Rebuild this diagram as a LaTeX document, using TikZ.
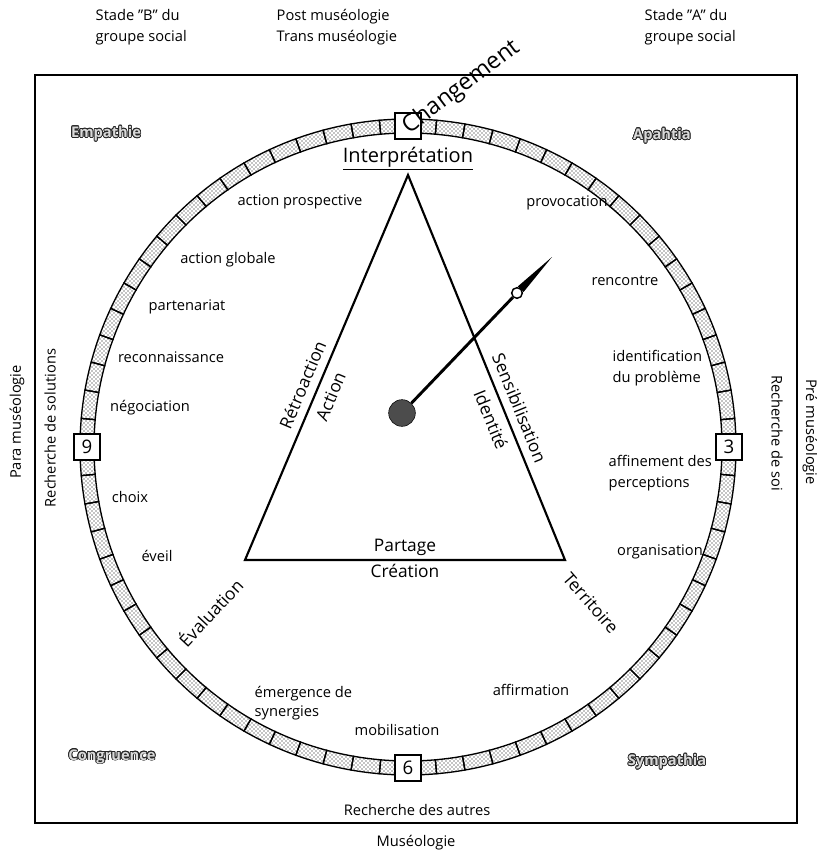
\documentclass[tikz,border=0pt]{standalone}
\usepackage{fontspec}
\setmainfont{Open Sans}
\usepackage{contour}
\contourlength{0.6pt}
\usetikzlibrary{patterns,calc}

\begin{document}
\begin{tikzpicture}[x=0.75pt, y=-0.75pt, every node/.style={font=\fontsize{11}{16}\selectfont},
    txt/.style={align=left, anchor=west},
    big/.style={font=\fontsize{13}{15}\selectfont},
    corner/.style={font=\bfseries\fontsize{11}{13}\selectfont},
    numbox/.style={draw, line width=1.4pt, fill=white, minimum size=20pt, inner sep=0pt, font=\fontsize{14}{16}\selectfont},
    seg/.style={draw, line width=1pt, pattern=crosshatch dots},
    tri/.style={line width=1.6pt, line join=miter}]

  \useasboundingbox (0,0) rectangle (817,851);
  \draw[line width=1.2pt] (35,75) rectangle (797,823);

  % outside labels
  \node[txt] (stadeb) at (91,27) {Stade "B" du\\groupe social};
  \node[txt] (postmus) at (272,27) {Post muséologie\\Trans muséologie};
  \node[txt] (stadea) at (640,27) {Stade "A" du\\groupe social};
  \node[rotate=90] (paramus) at (17,422) {Para muséologie};
  \node[rotate=90] (rsol) at (50,428) {Recherche de solutions};
  \node[rotate=-90] (rsoi) at (777,433) {Recherche de soi};
  \node[rotate=-90] (premus) at (810,432) {Pré muséologie};
  \node (rautres) at (417,810) {Recherche des autres};
  \node (mus) at (416,843) {Muséologie};

  % corners
  \node[corner] (emp) at (106,134) {\color{gray!30}\contour{black!85}{Empathie}};
  \node[corner] (apa) at (662,136) {\color{gray!30}\contour{black!85}{Apahtia}};
  \node[corner] (cong) at (112,757) {\color{gray!30}\contour{black!85}{Congruence}};
  \node[corner] (symp) at (667,762) {\color{gray!30}\contour{black!85}{Sympathia}};

  % ring
  \coordinate (c) at (408,447);
  \foreach \a in {0,5,...,355}
    \draw[seg, shift={(c)}] (\a:314) arc[start angle=\a, end angle=\a+5, radius=314]
      -- ({\a+5}:328) arc[start angle=\a+5, end angle=\a, radius=328] -- cycle;
  \node[numbox] (b12) at ([shift={(-90:321)}]c) {};
  \node[numbox] (b3) at ([shift={(0:321)}]c) {3};
  \node[numbox] (b6) at ([shift={(90:321)}]c) {6};
  \node[numbox] (b9) at ([shift={(180:321)}]c) {9};
  \node[anchor=base west, rotate=37, font=\fontsize{17.5}{20}\selectfont] (chg) at (406,137) {Changement};

  % steps inside the ring
  \node (prov) at (567,203) {provocation};
  \node (renc) at (625,281) {rencontre};
  \node[txt] (ident) at (608,368) {identification\\du problème};
  \node[txt] (affin) at (604,473) {affinement des\\perceptions};
  \node (orga) at (660,552) {organisation};
  \node (affir) at (531,690) {affirmation};
  \node (mobil) at (397,730) {mobilisation};
  \node[txt, font=\fontsize{11}{14.5}\selectfont] (emerg) at (250,703) {émergence de\\synergies};
  \node (eveil) at (157,556) {éveil};
  \node (choix) at (130,497) {choix};
  \node (nego) at (150,408) {négociation};
  \node (recon) at (171,357) {reconnaissance};
  \node (parten) at (187,307) {partenariat};
  \node (actglob) at (228,260) {action globale};
  \node (actpro) at (300,202) {action prospective};

  % triangle
  \coordinate (apex) at (408,175);
  \coordinate (bl) at (245,560);
  \coordinate (br) at (565,560);
  \draw[tri] (apex) -- (bl) -- (br) -- cycle;
  \node[font=\fontsize{15}{17}\selectfont] (interp) at (408,159) {\underline{Interprétation}};
  \path (bl) -- (apex) node[pos=0.44, sloped, above=3pt, big] (retro) {Rétroaction}
    node[pos=0.44, sloped, below=3pt, big] (action) {Action};
  \path (apex) -- (br) node[pos=0.62, sloped, above=3pt, big] (sensi) {Sensibilisation}
    node[pos=0.62, sloped, below=3pt, big] (identite) {Identité};
  \path (bl) -- (br) node[midway, above, big] (partage) {Partage}
    node[midway, below, big] (creation) {Création};
  \node[rotate=47, big] (evalu) at (210,612) {Évaluation};
  \node[rotate=-49, big] (terri) at (591,603) {Territoire};

  % hand
  \coordinate (pv) at (517,293);
  \coordinate (tip) at (552,257);
  \coordinate (sb) at ($(pv)!4pt!(tip)$);
  \fill ($(sb)!3pt!90:(tip)$) -- (tip) -- ($(sb)!3pt!-90:(tip)$) -- cycle;
  \node[circle, draw, fill=black!70, minimum size=20pt, inner sep=0pt] (hub) at (402,413) {};
  \node[circle, draw, fill=white, line width=1.1pt, minimum size=8pt, inner sep=0pt] (piv) at (pv) {};
  \draw[line width=2.2pt] (hub) -- (piv);
\end{tikzpicture}
\end{document}
